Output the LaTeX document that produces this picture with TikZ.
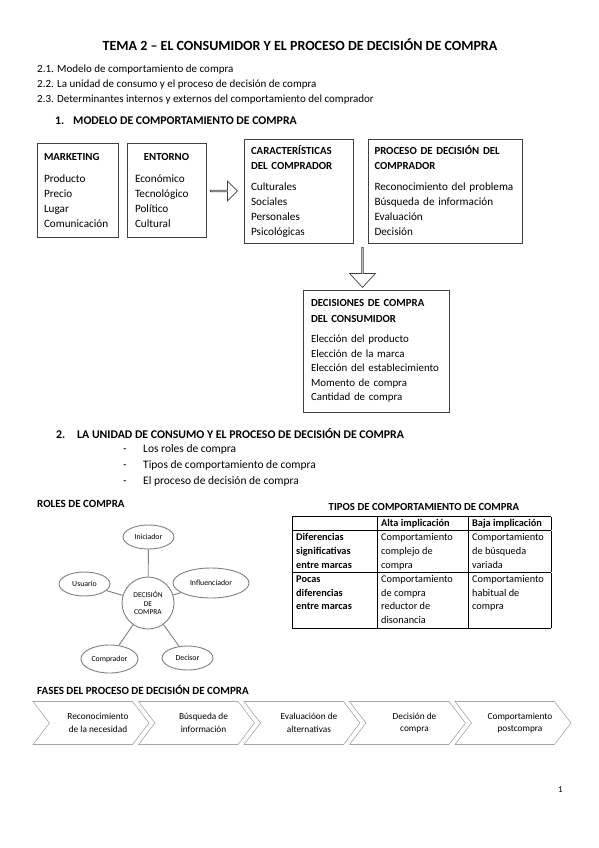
\documentclass[tikz,border=0pt]{standalone}
\usepackage{fontspec}
\setmainfont{Carlito}
\usetikzlibrary{shapes.geometric,shapes.arrows,shapes.symbols,positioning}

\newcommand\boxhead{\fontsize{10.8}{15}\selectfont\bfseries}

\tikzset{
  txt/.style={anchor=west, inner sep=0pt, text height=1.5ex, text depth=.3ex, font=\fontsize{11}{12}\selectfont},
  head/.style={anchor=west, inner sep=0pt, text height=1.5ex, text depth=.3ex, font=\fontsize{11.8}{14}\selectfont\bfseries},
  minihead/.style={txt, font=\fontsize{11}{13}\selectfont\bfseries},
  box/.style={draw=black!75, line width=0.7pt, inner sep=0pt, align=left, font=\fontsize{11.2}{15}\selectfont},
  blockarrow/.style={single arrow, draw=black!75, line width=0.7pt, fill=white, inner sep=0pt},
  role/.style={ellipse, draw=black!50, line width=0.9pt, fill=white, inner sep=1pt, font=\fontsize{7.8}{9}\selectfont},
  link/.style={draw=black!50, line width=0.9pt},
  phase/.style={signal, signal to=east, signal from=west, signal pointer angle=105, draw=black!35, line width=0.6pt,
    fill=white, minimum width=116pt, minimum height=43pt, inner sep=0pt},
  phasetxt/.style={inner sep=0pt, align=center, font=\fontsize{9.3}{12.5}\selectfont}
}

\begin{document}
\begin{tikzpicture}[x=1pt,y=-1pt]

  \fill[white] (0,0) rectangle (599,848);
  \useasboundingbox (0,0) rectangle (599,848);

  % titles and lists
  \node[inner sep=0pt, font=\fontsize{14}{16}\selectfont\bfseries] (title) at (300,45) {TEMA 2 -- EL CONSUMIDOR Y EL PROCESO DE DECISIÓN DE COMPRA};
  \node[txt] (l1) at (37,70)  {2.1. Modelo de comportamiento de compra};
  \node[txt] (l2) at (37,85)  {2.2. La unidad de consumo y el proceso de decisión de compra};
  \node[txt] (l3) at (37,100) {2.3. Determinantes internos y externos del comportamiento del comprador};

  \node[head] (s1n) at (55,122) {1.};
  \node[head] (s1)  at (73,122) {MODELO DE COMPORTAMIENTO DE COMPRA};

  % model boxes
  \node[box, minimum width=81pt, minimum height=94pt, text width=67pt] (mkt) at (77.5,190)
    {{\boxhead MARKETING}\\[7pt] Producto\\ Precio\\ Lugar\\ Comunicación};
  \node[box, minimum width=79pt, minimum height=94pt, text width=63pt] (ent) at (166.5,190)
    {\makebox[\linewidth][c]{\boxhead ENTORNO}\\[7pt] Económico\\ Tecnológico\\ Político\\ Cultural};
  \node[box, minimum width=109pt, minimum height=104pt, text width=95pt] (car) at (298.5,191)
    {{\boxhead CARACTERÍSTICAS}\\ {\boxhead DEL COMPRADOR}\\[6pt] Culturales\\ Sociales\\ Personales\\ Psicológicas};
  \node[box, minimum width=154pt, minimum height=104pt, text width=141pt] (pro) at (445,191)
    {{\boxhead PROCESO DE DECISIÓN DEL}\\ {\boxhead COMPRADOR}\\[6pt] Reconocimiento del problema\\ Búsqueda de información\\ Evaluación\\ Decisión};
  \node[box, minimum width=146pt, minimum height=122pt, text width=130pt, font=\fontsize{10.9}{14.5}\selectfont] (dcs) at (376,351)
    {{\boxhead DECISIONES DE COMPRA}\\[1.5pt] {\boxhead DEL CONSUMIDOR}\\[6pt] Elección del producto\\ Elección de la marca\\ Elección del establecimiento\\ Momento de compra\\ Cantidad de compra};

  \node[blockarrow, minimum width=20pt, minimum height=27pt, single arrow head extend=4pt, single arrow tip angle=90] (arr1) at (223.5,191) {};
  \node[blockarrow, rotate=-90, minimum width=26pt, minimum height=40pt, single arrow head extend=6pt, single arrow tip angle=86] (arr2) at (362.5,267) {};

  % section 2
  \node[head] (s2n) at (56,436) {2.};
  \node[head] (s2)  at (77,436) {LA UNIDAD DE CONSUMO Y EL PROCESO DE DECISIÓN DE COMPRA};
  \foreach \t [count=\i] in {Los roles de compra, Tipos de comportamiento de compra, El proceso de decisión de compra} {
    \node[txt, font=\fontsize{11.5}{13}\selectfont] (d\i) at (123,434+16*\i) {-};
    \node[txt, font=\fontsize{11.5}{13}\selectfont] (b\i) at (143,434+16*\i) {\t};
  }

  % roles
  \node[minihead] (rtit) at (37,505) {ROLES DE COMPRA};
  \node[circle, draw=black!50, line width=0.9pt, minimum size=52pt, inner sep=0pt, align=center, font=\fontsize{7.5}{8.8}\selectfont] (dec) at (148,603) {DECISIÓN\\DE\\COMPRA};
  \node[role, minimum width=51pt, minimum height=24pt] (ini) at (148.5,537) {Iniciador};
  \node[role, minimum width=76pt, minimum height=30pt] (inf) at (211,583) {Influenciador};
  \node[role, minimum width=51pt, minimum height=24pt] (usu) at (84.5,584) {Usuario};
  \node[role, minimum width=57pt, minimum height=28pt] (com) at (109.5,659) {Comprador};
  \node[role, minimum width=51pt, minimum height=24pt] (dsr) at (187.5,658) {Decisor};
  \foreach \r in {ini,inf,usu,com,dsr}
    \draw[link] (dec) -- (\r);

  % table
  \node[inner sep=0pt, font=\fontsize{10.8}{12}\selectfont\bfseries] (ttit) at (424,507) {TIPOS DE COMPORTAMIENTO DE COMPRA};
  \node[anchor=north west, inner sep=0pt, font=\fontsize{10.3}{13.8}\selectfont] (tab) at (292,516) {%
    \setlength{\tabcolsep}{4pt}%
    \begin{tabular}{|p{77pt}|p{83pt}|p{75pt}|}
      \hline
       & \textbf{Alta implicación} & \textbf{Baja implicación}\\ \hline
      \textbf{Diferencias}\newline\textbf{significativas}\newline\textbf{entre marcas} &
        Comportamiento\newline complejo de\newline compra &
        Comportamiento\newline de búsqueda\newline variada\\ \hline
      \textbf{Pocas}\newline\textbf{diferencias}\newline\textbf{entre marcas} &
        Comportamiento\newline de compra\newline reductor de\newline disonancia &
        Comportamiento\newline habitual de\newline compra\\ \hline
    \end{tabular}};

  % phases
  \node[minihead] (ftit) at (37,692) {FASES DEL PROCESO DE DECISIÓN DE COMPRA};
  \foreach \t [count=\i] in {Reconocimiento\\de la necesidad, Búsqueda de\\información, Evaluacióon de\\alternativas, Decisión de\\compra, Comportamiento\\postcompra} {
    \node[phase] (f\i) at (91+105.5*\i-105.5,723) {};
    \node[phasetxt] (t\i) at ([xshift=7pt]f\i.center) {\t};
  }

  \node[txt, font=\fontsize{9}{11}\selectfont] (page) at (558,790) {1};

\end{tikzpicture}
\end{document}
